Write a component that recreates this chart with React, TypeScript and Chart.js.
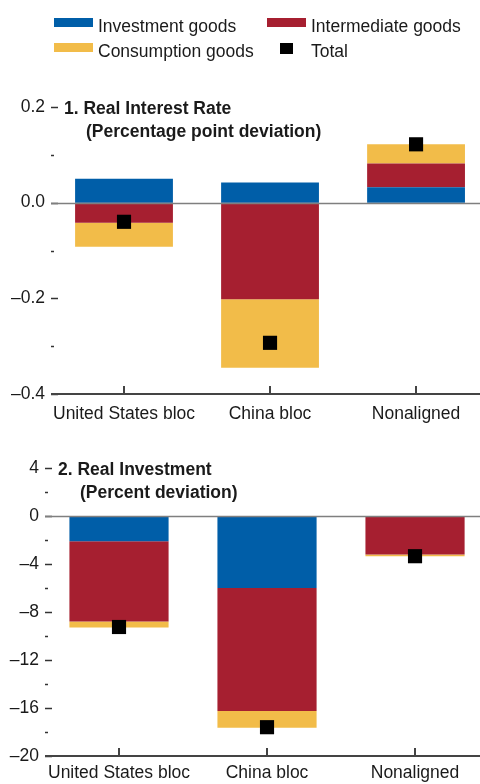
import React, { useEffect, useRef } from "react";
import { Chart, registerables } from "chart.js";

Chart.register(...registerables);

// ---------- data ----------
const categories = ["United States bloc", "China bloc", "Nonaligned"];
const seriesNames = ["Investment goods", "Intermediate goods", "Consumption goods", "Total"];
const seriesColors = ["#005EA8", "#A61F30", "#F2BC49", "#000000"];

// Panel 1: Real Interest Rate (percentage point deviation)
const rateInvestment = [0.05, 0.042, 0.032];
const rateIntermediate = [-0.042, -0.202, 0.05];
const rateConsumption = [-0.05, -0.143, 0.04];
const rateTotal = [-0.04, -0.293, 0.122];
const rateMajorTicks = [0.2, 0.0, -0.2, -0.4];
const rateMinorTicks = [0.1, -0.1, -0.3];

// Panel 2: Real Investment (percent deviation)
const invInvestment = [-2.1, -6.0, -0.05];
const invIntermediate = [-6.7, -10.25, -3.15];
const invConsumption = [-0.5, -1.4, -0.15];
const invTotal = [-9.25, -17.6, -3.35];
const invMajorTicks = [4, 0, -4, -8, -12, -16, -20];
const invMinorTicks = [2, -2, -6, -10, -14, -18];

const FONT = "'Liberation Sans', Arial, sans-serif";

type PanelCfg = {
  inv: number[];
  inter: number[];
  cons: number[];
  total: number[];
  major: number[];
  minor: number[];
  decimals: number;
  axisWidth: number;
  xMax: number;
  padTop: number;
  padBottom: number;
  xAxisHeight: number;
  xLabelPad: number;
};

function makeDecor(major: number[], minor: number[]) {
  return {
    id: "decor",
    afterDatasetsDraw(chart: any) {
      const ctx = chart.ctx;
      const area = chart.chartArea;
      const y = chart.scales.y;
      const x = chart.scales.x;
      ctx.save();
      // y tick marks
      ctx.strokeStyle = "#333333";
      ctx.lineWidth = 1.5;
      major.forEach((v) => {
        const py = Math.round(y.getPixelForValue(v)) + 0.5;
        ctx.beginPath();
        ctx.moveTo(area.left, py);
        ctx.lineTo(area.left + 7, py);
        ctx.stroke();
      });
      minor.forEach((v) => {
        const py = Math.round(y.getPixelForValue(v)) + 0.5;
        ctx.beginPath();
        ctx.moveTo(area.left, py);
        ctx.lineTo(area.left + 3, py);
        ctx.stroke();
      });
      // zero line
      const zy = Math.round(y.getPixelForValue(0)) + 0.5;
      ctx.strokeStyle = "#7F7F7F";
      ctx.lineWidth = 1.3;
      ctx.beginPath();
      ctx.moveTo(area.left, zy);
      ctx.lineTo(area.right, zy);
      ctx.stroke();
      // bottom axis line
      const by = area.bottom;
      ctx.strokeStyle = "#444444";
      ctx.lineWidth = 2;
      ctx.beginPath();
      ctx.moveTo(area.left, by);
      ctx.lineTo(area.right, by);
      ctx.stroke();
      // x tick marks (inward)
      categories.forEach((_, i) => {
        const px = Math.round(x.getPixelForValue(i));
        ctx.beginPath();
        ctx.moveTo(px, by);
        ctx.lineTo(px, by - 8);
        ctx.stroke();
      });
      ctx.restore();
    },
  };
}

function Panel({ cfg, height }: { cfg: PanelCfg; height: number }) {
  const ref = useRef<HTMLCanvasElement | null>(null);
  useEffect(() => {
    if (!ref.current) return;
    const pts = (arr: number[]) => arr.map((v, i) => ({ x: i, y: v }));
    const barDs = (label: string, data: number[], color: string) => ({
      type: "bar" as const,
      label,
      data: pts(data),
      backgroundColor: color,
      borderWidth: 0,
      barPercentage: 1,
      categoryPercentage: 0.67,
      stack: "s",
      order: 2,
    });
    const fmt = (v: number) => {
      const s = Math.abs(v) < 1e-9 ? (0).toFixed(cfg.decimals) : v.toFixed(cfg.decimals);
      return s.replace("-", "\u2013");
    };
    const chart = new Chart(ref.current, {
      type: "bar",
      data: {
        datasets: [
          barDs(seriesNames[0], cfg.inv, seriesColors[0]),
          barDs(seriesNames[1], cfg.inter, seriesColors[1]),
          barDs(seriesNames[2], cfg.cons, seriesColors[2]),
          {
            type: "line" as const,
            label: seriesNames[3],
            data: pts(cfg.total),
            showLine: false,
            pointStyle: "rect",
            pointRadius: 10,
            pointHoverRadius: 10,
            pointBackgroundColor: seriesColors[3],
            pointBorderWidth: 0,
            borderWidth: 0,
            stack: "total",
            order: 1,
          } as any,
        ],
      },
      options: {
        animation: false,
        responsive: false,
        maintainAspectRatio: false,
        events: [],
        layout: { autoPadding: false, padding: { top: cfg.padTop, left: 0, right: 0, bottom: cfg.padBottom } },
        plugins: { legend: { display: false }, tooltip: { enabled: false } },
        scales: {
          x: {
            type: "linear",
            min: -0.5,
            max: cfg.xMax,
            offset: false,
            stacked: true,
            grid: { display: false, drawTicks: false },
            border: { display: false },
            afterBuildTicks: (scale: any) => {
              scale.ticks = categories.map((_, i) => ({ value: i }));
            },
            afterFit: (scale: any) => {
              scale.height = cfg.xAxisHeight;
              scale.paddingLeft = 0;
              scale.paddingRight = 0;
            },
            ticks: {
              padding: cfg.xLabelPad,
              autoSkip: false,
              maxRotation: 0,
              color: "#1a1a1a",
              font: { family: FONT, size: 17.5 },
              callback: (v: any) => categories[Math.round(Number(v))] ?? "",
            },
          },
          y: {
            type: "linear",
            min: cfg.major[cfg.major.length - 1],
            max: cfg.major[0],
            stacked: true,
            grid: { display: false, drawTicks: false },
            border: { display: false },
            afterBuildTicks: (scale: any) => {
              scale.ticks = cfg.major.map((v) => ({ value: v }));
            },
            afterFit: (scale: any) => {
              scale.width = cfg.axisWidth;
            },
            ticks: {
              padding: 6,
              color: "#1a1a1a",
              font: { family: FONT, size: 17.5 },
              callback: (v: any) => fmt(Number(v)),
            },
          },
        },
      },
      plugins: [makeDecor(cfg.major, cfg.minor)],
    } as any);
    return () => chart.destroy();
  }, [cfg]);
  return <canvas ref={ref} width={480} height={height} style={{ display: "block", width: 480, height }} />;
}

const topCfg: PanelCfg = {
  inv: rateInvestment,
  inter: rateIntermediate,
  cons: rateConsumption,
  total: rateTotal,
  major: rateMajorTicks,
  minor: rateMinorTicks,
  decimals: 1,
  axisWidth: 51,
  xMax: 2.438,
  padTop: 107,
  padBottom: 16,
  xAxisHeight: 30,
  xLabelPad: 10,
};

const bottomCfg: PanelCfg = {
  inv: invInvestment,
  inter: invIntermediate,
  cons: invConsumption,
  total: invTotal,
  major: invMajorTicks,
  minor: invMinorTicks,
  decimals: 0,
  axisWidth: 45,
  xMax: 2.439,
  padTop: 28,
  padBottom: 0,
  xAxisHeight: 28,
  xLabelPad: 7,
};

const txt: React.CSSProperties = {
  position: "absolute",
  fontFamily: FONT,
  fontSize: 17.5,
  lineHeight: "20px",
  color: "#1a1a1a",
  whiteSpace: "nowrap",
};

export default function App() {
  const legendItems = [
    { name: seriesNames[0], color: seriesColors[0], left: 54, top: 18, kind: "bar" },
    { name: seriesNames[1], color: seriesColors[1], left: 267, top: 18, kind: "bar" },
    { name: seriesNames[2], color: seriesColors[2], left: 54, top: 43, kind: "bar" },
    { name: seriesNames[3], color: seriesColors[3], left: 280, top: 43, kind: "pt" },
  ];
  return (
    <div style={{ position: "fixed", left: 0, top: 0, width: 480, height: 784, background: "#fff", overflow: "hidden" }}>
      <div style={{ position: "absolute", left: 0, top: 0 }}>
        <Panel cfg={topCfg} height={440} />
      </div>
      <div style={{ position: "absolute", left: 0, top: 440 }}>
        <Panel cfg={bottomCfg} height={344} />
      </div>
      {legendItems.map((it, i) => (
        <React.Fragment key={i}>
          {it.kind === "bar" ? (
            <div style={{ position: "absolute", left: it.left, top: it.top, width: 39, height: 9, background: it.color }} />
          ) : (
            <div style={{ position: "absolute", left: it.left, top: it.top, width: 13, height: 11, background: it.color }} />
          )}
          <div style={{ ...txt, left: it.kind === "bar" ? it.left + 44 : 311, top: it.top - 2 }}>{it.name}</div>
        </React.Fragment>
      ))}
      <div style={{ ...txt, fontWeight: "bold", left: 64, top: 98 }}>1. Real Interest Rate</div>
      <div style={{ ...txt, fontWeight: "bold", left: 86, top: 121 }}>(Percentage point deviation)</div>
      <div style={{ ...txt, fontWeight: "bold", left: 58, top: 459 }}>2. Real Investment</div>
      <div style={{ ...txt, fontWeight: "bold", left: 80, top: 482 }}>(Percent deviation)</div>
    </div>
  );
}
